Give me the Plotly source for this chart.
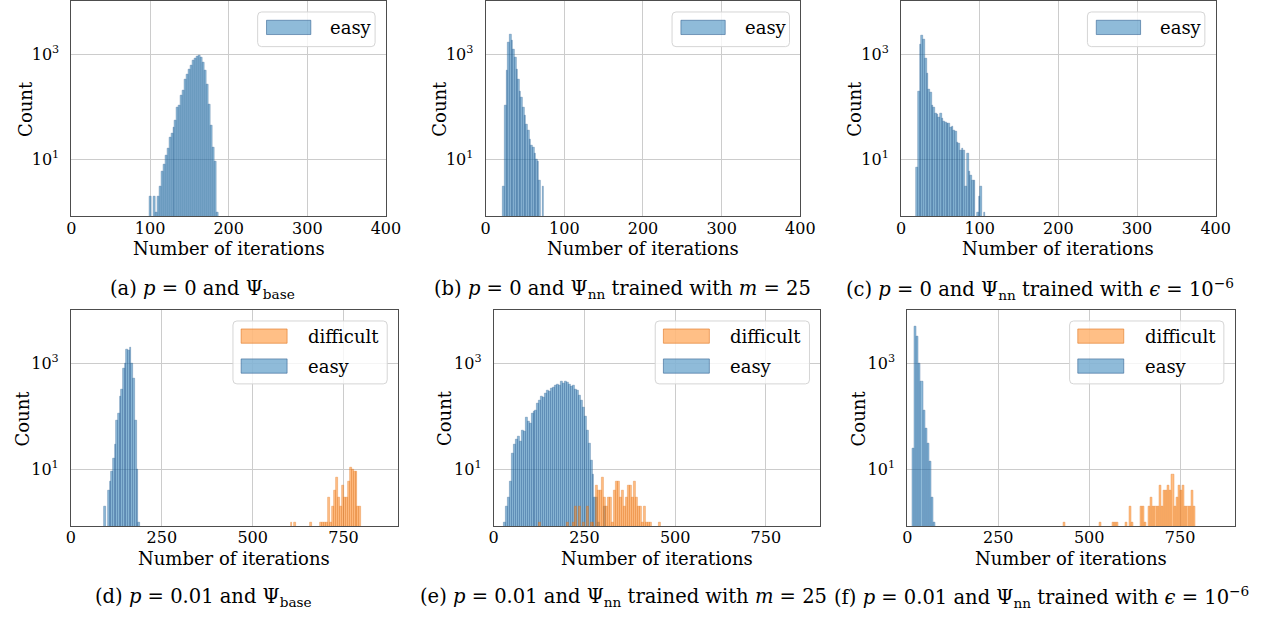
import plotly.graph_objects as go

W, H = 1274, 619

# ---------------- data ----------------
X_TICKS_TOP = [0, 100, 200, 300, 400]
X_TICKS_BOTTOM = [0, 250, 500, 750]
Y_TICKS = [10, 1000]
Y_TICK_TEXT = ["10<sup>1</sup>", "10<sup>3</sup>"]

A_EASY_START, A_EASY_WIDTH = 99.1, 2.5
A_EASY = [2, 0, 2, 1, 2, 3, 6, 8, 12, 16, 26, 31, 40, 54, 98, 105, 162, 200, 335, 418,
          520, 617, 745, 838, 900, 955, 865, 690, 480, 270, 112, 44, 17, 9, 1]

B_EASY_START, B_EASY_WIDTH = 22.1, 2.085
B_EASY = [3, 108, 480, 1660, 2400, 1790, 1240, 870, 500, 335, 192, 150, 95, 68, 47, 35,
          24, 18, 17, 13, 10, 9, 4, 0, 3]

C_EASY_START, C_EASY_WIDTH = 19.6, 2.136
C_EASY = [7, 196, 1550, 2230, 1870, 825, 428, 217, 187, 104, 95, 76, 70, 63, 75, 60, 52,
          50, 49, 48, 40, 42, 35, 34, 21, 20, 15, 16, 15, 3, 13, 6, 5, 4, 4, 0, 1, 2, 3, 0, 1]

D_EASY_START, D_EASY_WIDTH = 92.1, 4.64
D_EASY = [2, 0, 4, 6, 9, 16, 29, 85, 114, 234, 316, 805, 1000, 1840, 1730, 2000, 1020,
          520, 85, 10, 1]
D_DIFF_START, D_DIFF_WIDTH = 604.0, 5.42
D_DIFF = [1, 0, 1, 0, 0, 0, 0, 0, 0, 0, 1, 0, 0, 0, 0, 1, 1, 1, 1, 3, 1, 2, 4, 7, 3, 2,
          5, 3, 3, 6, 11, 10, 9, 9, 2, 2]

E_EASY_START, E_EASY_WIDTH = 27.6, 5.42
E_EASY = [1, 2, 3, 6, 20, 29, 36, 41, 34, 55, 51, 96, 79, 74, 114, 123, 132, 177, 204, 234,
          228, 271, 304, 293, 338, 350, 390, 408, 380, 450, 425, 450, 437, 405, 362, 380,
          325, 304, 252, 204, 148, 98, 55, 31, 15, 8, 3, 3, 1, 0, 0, 2]
E_DIFF_START, E_DIFF_WIDTH = 125.16, 5.42
E_DIFF = [1, 0, 0, 0, 0, 0, 0, 0, 0, 0, 0, 0, 0, 0,
          1, 0, 0, 1, 2, 0, 2, 0, 1, 0, 2, 0, 1, 1, 0,
          5, 4, 4, 7, 3, 2, 3, 3, 1, 4, 6, 6, 3, 4, 2, 3, 5, 5, 3, 6, 3, 2, 2, 1, 2, 1, 1, 1,
          0, 0, 0, 0, 1]

F_EASY_START, F_EASY_WIDTH = 13.4, 5.85
F_EASY = [25, 4900, 3170, 1000, 450, 131, 59, 31, 14, 3, 1]
F_DIFF_START, F_DIFF_WIDTH = 428.75, 5.85
F_DIFF = [1, 0, 0, 0, 0, 0, 0, 0, 0, 0, 0, 0, 0, 0, 0, 0, 0, 1, 0, 0, 0, 0, 0, 1, 1, 1,
          0, 0, 0, 1, 0, 2, 1, 0, 0, 0, 2, 2, 1, 0, 2, 3, 2, 2, 2, 5, 2, 4, 4, 5, 4, 8, 2,
          3, 5, 4, 5, 2, 2, 2, 4, 2]

CAPTIONS = [
    "(a) <i>p</i> = 0 and Ψ<sub>base</sub>",
    "(b) <i>p</i> = 0 and Ψ<sub>nn</sub> trained with <i>m</i> = 25",
    "(c) <i>p</i> = 0 and Ψ<sub>nn</sub> trained with <i>ϵ</i> = 10<sup>−6</sup>",
    "(d) <i>p</i> = 0.01 and Ψ<sub>base</sub>",
    "(e) <i>p</i> = 0.01 and Ψ<sub>nn</sub> trained with <i>m</i> = 25",
    "(f) <i>p</i> = 0.01 and Ψ<sub>nn</sub> trained with <i>ϵ</i> = 10<sup>−6</sup>",
]
X_TITLE = "Number of iterations"
Y_TITLE = "Count"

# ---------------- styling ----------------
FONT = "DejaVu Serif, Liberation Serif, serif"
BLUE_FILL = "rgba(31,119,180,0.5)"
BLUE_EDGE = "rgba(40,90,140,0.55)"
ORANGE_FILL = "rgba(255,127,14,0.5)"
ORANGE_EDGE = "rgba(220,110,20,0.55)"
TICK_SIZE = 16
TITLE_SIZE = 18
CAP_SIZE = 19.5
LEG_SIZE = 18

# panel geometry in pixels: (x0, x1, y_top, y_bottom)
GEOM = [
    (67.5, 387.0, 0.5, 215.7),
    (488.3, 808.0, 0.5, 215.7),
    (910.3, 1230.0, 0.5, 215.7),
    (67.0, 399.3, 310.0, 526.0),
    (496.5, 828.3, 310.0, 526.0),
    (916.7, 1249.3, 310.0, 526.0),
]
CAP_X = [201, 627, 1051, 202, 628, 1053]
CAP_Y = [288.5, 288.5, 288.5, 597, 597, 597]
COUNT_X = [21.3, 441.7, 863.3, 17.5, 446.7, 866.7]

SERIES = [
    [("easy", A_EASY_START, A_EASY_WIDTH, A_EASY)],
    [("easy", B_EASY_START, B_EASY_WIDTH, B_EASY)],
    [("easy", C_EASY_START, C_EASY_WIDTH, C_EASY)],
    [("easy", D_EASY_START, D_EASY_WIDTH, D_EASY), ("difficult", D_DIFF_START, D_DIFF_WIDTH, D_DIFF)],
    [("easy", E_EASY_START, E_EASY_WIDTH, E_EASY), ("difficult", E_DIFF_START, E_DIFF_WIDTH, E_DIFF)],
    [("easy", F_EASY_START, F_EASY_WIDTH, F_EASY), ("difficult", F_DIFF_START, F_DIFF_WIDTH, F_DIFF)],
]


def pxx(x):
    return x / W


def pxy(y):
    return 1 - y / H


fig = go.Figure()
layout = dict(
    width=W, height=H, margin=dict(l=0, r=0, t=0, b=0),
    paper_bgcolor="white", plot_bgcolor="white",
    barmode="overlay", bargap=0, showlegend=False,
    font=dict(family=FONT, color="black", size=TICK_SIZE),
)
shapes = []
annotations = []

for i, (geo, series) in enumerate(zip(GEOM, SERIES)):
    n = i + 1
    x0, x1, yt, yb = geo
    top_row = i < 3
    xs = "" if n == 1 else str(n)
    for name, start, width, counts in series:
        centers = [start + width * (k + 0.5) for k in range(len(counts))]
        vals = [c if c > 0 else None for c in counts]
        fill = BLUE_FILL if name == "easy" else ORANGE_FILL
        edge = BLUE_EDGE if name == "easy" else ORANGE_EDGE
        fig.add_trace(go.Bar(
            x=centers, y=vals, width=width, name=name,
            marker=dict(color=fill, line=dict(color=edge, width=0.6)),
            xaxis="x" + xs, yaxis="y" + xs, hoverinfo="x+y",
        ))
    xt = X_TICKS_TOP if top_row else X_TICKS_BOTTOM
    layout["xaxis" + xs] = dict(
        domain=[pxx(x0), pxx(x1)], anchor="y" + xs,
        range=[0, 400] if top_row else [0, 900],
        tickvals=xt, ticktext=[str(v) for v in xt],
        showgrid=True, gridcolor="#cccccc", gridwidth=1,
        showline=True, linecolor="#4d4d4d", linewidth=1, mirror=True,
        zeroline=False, ticks="", tickfont=dict(family=FONT, size=TICK_SIZE, color="black"),
        ticklabelstandoff=-3,
    )
    layout["yaxis" + xs] = dict(
        domain=[pxy(yb), pxy(yt)], anchor="x" + xs, type="log",
        range=[-0.082, 4.0] if top_row else [-0.07, 4.0],
        tickvals=Y_TICKS, ticktext=Y_TICK_TEXT,
        showgrid=True, gridcolor="#cccccc", gridwidth=1,
        showline=True, linecolor="#4d4d4d", linewidth=1, mirror=True,
        zeroline=False, ticks="", tickfont=dict(family=FONT, size=TICK_SIZE, color="black"),
        ticklabelstandoff=8,
    )

    # axis titles
    annotations.append(dict(
        x=pxx((x0 + x1) / 2), y=pxy(yb + 32.5), xref="paper", yref="paper",
        text=X_TITLE, showarrow=False, xanchor="center", yanchor="middle",
        font=dict(family=FONT, size=TITLE_SIZE, color="black"),
    ))
    annotations.append(dict(
        x=pxx(COUNT_X[i]), y=pxy((yt + yb) / 2), xref="paper", yref="paper",
        text=Y_TITLE, showarrow=False, textangle=-90, xanchor="center", yanchor="middle",
        font=dict(family=FONT, size=TITLE_SIZE, color="black"),
    ))
    # caption
    annotations.append(dict(
        x=pxx(CAP_X[i]), y=pxy(CAP_Y[i]), xref="paper", yref="paper",
        text=CAPTIONS[i], showarrow=False, xanchor="center", yanchor="middle",
        font=dict(family=FONT, size=CAP_SIZE, color="black"),
    ))

    # legend box (drawn manually to mimic matplotlib's rounded frame)
    entries = [s[0] for s in series][::-1]  # difficult first, then easy
    single = len(entries) == 1
    bw = 119.3 if single else 156.7
    bh = 34.7 if single else 63.0
    br = x1 - 11
    bl = br - bw
    bt = yt + 10.5
    bb = bt + bh
    r = 4
    path = (
        f"M {pxx(bl + r)},{pxy(bt)} L {pxx(br - r)},{pxy(bt)} "
        f"Q {pxx(br)},{pxy(bt)} {pxx(br)},{pxy(bt + r)} "
        f"L {pxx(br)},{pxy(bb - r)} Q {pxx(br)},{pxy(bb)} {pxx(br - r)},{pxy(bb)} "
        f"L {pxx(bl + r)},{pxy(bb)} Q {pxx(bl)},{pxy(bb)} {pxx(bl)},{pxy(bb - r)} "
        f"L {pxx(bl)},{pxy(bt + r)} Q {pxx(bl)},{pxy(bt)} {pxx(bl + r)},{pxy(bt)} Z"
    )
    shapes.append(dict(type="path", path=path, xref="paper", yref="paper",
                       fillcolor="rgba(255,255,255,0.8)",
                       line=dict(color="#d5d5d5", width=1), layer="above"))
    for j, name in enumerate(entries):
        if single:
            p0, p1, ptop, tx = bl + 9, bl + 54, bt + 8.3, bl + 71.6
        else:
            p0, p1, ptop, tx = bl + 8.3, bl + 55, bt + 8 + 30 * j, bl + 74.3
        pbot = ptop + 14.3
        fill = BLUE_FILL if name == "easy" else ORANGE_FILL
        edge = BLUE_EDGE if name == "easy" else ORANGE_EDGE
        shapes.append(dict(type="rect", xref="paper", yref="paper",
                           x0=pxx(p0), x1=pxx(p1), y0=pxy(pbot), y1=pxy(ptop),
                           fillcolor=fill, line=dict(color=edge, width=1), layer="above"))
        annotations.append(dict(
            x=pxx(tx), y=pxy((ptop + pbot) / 2), xref="paper", yref="paper",
            text=name, showarrow=False, xanchor="left", yanchor="middle",
            font=dict(family=FONT, size=LEG_SIZE, color="black"),
        ))

layout["shapes"] = shapes
layout["annotations"] = annotations
fig.update_layout(**layout)
fig.write_html(
    "out.html",
    config={"displayModeBar": False},
    post_script="document.body.style.margin='0px';document.body.style.overflow='hidden';",
)
